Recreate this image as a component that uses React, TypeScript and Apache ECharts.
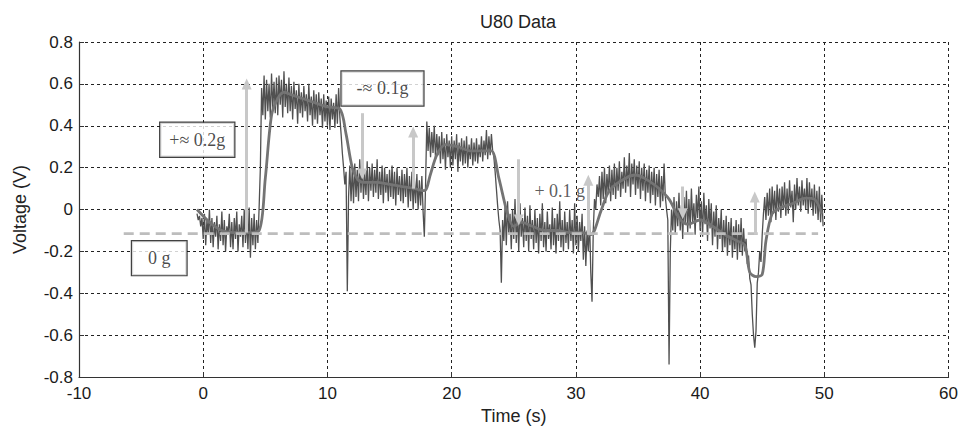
import { useEffect, useRef } from "react";
import * as echarts from "echarts";

// Raw accelerometer output, one sample every SAMPLE_STEP seconds from SAMPLE_START
const SAMPLE_START = -0.5;
const SAMPLE_STEP = 0.1;
const rawVoltage = [
  -0.02, -0.05, -0.03, -0.08, -0.04,
  -0.14, -0.02, -0.17, -0.05, -0.12, 0.0, -0.16, -0.04, -0.18, -0.06,
  -0.13, -0.03, -0.19, -0.07, -0.15, -0.01, -0.17, -0.05, -0.2, -0.08,
  -0.12, -0.02, -0.18, -0.06, -0.19, -0.04, -0.14, -0.01, -0.2, -0.07,
  -0.13, -0.03, -0.18, 0.0, -0.16, -0.05, -0.19, 0.01, -0.23, -0.04,
  -0.17, -0.02, -0.19, -0.05, -0.16, 0.01, 0.2, 0.58, 0.45, 0.64,
  0.43, 0.62, 0.47, 0.6, 0.44, 0.65, 0.48, 0.61, 0.46, 0.63,
  0.45, 0.64, 0.5, 0.62, 0.44, 0.66, 0.49, 0.6, 0.46, 0.63,
  0.47, 0.59, 0.43, 0.61, 0.48, 0.57, 0.41, 0.6, 0.46, 0.56,
  0.44, 0.59, 0.47, 0.55, 0.42, 0.6, 0.45, 0.54, 0.4, 0.57,
  0.43, 0.55, 0.41, 0.56, 0.45, 0.53, 0.39, 0.55, 0.42, 0.52,
  0.4, 0.54, 0.38, 0.53, 0.43, 0.51, 0.39, 0.55, 0.41, 0.58,
  0.44, 0.36, 0.27, 0.2, 0.12, 0.18, -0.39, 0.06, 0.21, 0.04,
  0.2, 0.03, 0.22, 0.06, 0.19, 0.04, 0.24, 0.08, 0.21, 0.05,
  0.18, 0.07, 0.23, 0.04, 0.2, 0.09, 0.22, 0.06, 0.19, 0.08,
  0.24, 0.05, 0.18, 0.07, 0.21, 0.03, 0.2, 0.08, 0.17, 0.04,
  0.19, 0.06, 0.21, 0.05, 0.18, 0.02, 0.2, 0.07, 0.16, 0.04,
  0.19, 0.03, 0.17, 0.06, 0.2, 0.01, 0.16, 0.04, 0.18, 0.0,
  0.15, 0.03, 0.17, 0.0, 0.14, 0.02, 0.16, -0.01, -0.13, 0.12,
  0.42, 0.28, 0.39, 0.25, 0.37, 0.27, 0.4, 0.24, 0.36, 0.26,
  0.35, 0.22, 0.37, 0.24, 0.34, 0.19, 0.36, 0.25, 0.33, 0.2,
  0.35, 0.21, 0.33, 0.24, 0.36, 0.18, 0.32, 0.23, 0.34, 0.21,
  0.33, 0.22, 0.35, 0.2, 0.31, 0.24, 0.34, 0.21, 0.32, 0.23,
  0.34, 0.22, 0.31, 0.25, 0.35, 0.23, 0.33, 0.26, 0.38, 0.24,
  0.35, 0.26, 0.36, 0.28, 0.25, 0.18, 0.1, 0.02, -0.05, -0.1,
  -0.35, -0.05, -0.15, 0.02, -0.17, 0.04, -0.12, -0.02, -0.19, 0.0,
  -0.14, 0.05, -0.16, -0.02, -0.2, 0.03, -0.13, -0.04, -0.18, 0.01,
  -0.15, -0.03, -0.2, 0.02, -0.14, -0.05, -0.19, 0.0, -0.16, -0.04,
  -0.21, -0.02, -0.15, 0.03, -0.18, -0.06, -0.2, -0.01, -0.14, -0.07,
  -0.19, 0.01, -0.17, -0.04, -0.21, -0.02, -0.15, 0.04, -0.18, -0.05,
  -0.2, -0.01, -0.16, -0.06, -0.19, 0.0, -0.15, -0.05, -0.21, 0.03,
  -0.17, -0.03, -0.2, -0.06, -0.15, -0.02, -0.24, -0.08, -0.27, -0.1,
  -0.2, -0.05, -0.3, -0.44, -0.1, 0.05, 0.0, 0.12, 0.06, 0.16,
  0.02, 0.18, 0.05, 0.2, 0.03, 0.17, 0.08, 0.21, 0.04, 0.19,
  0.07, 0.22, 0.05, 0.2, 0.09, 0.23, 0.06, 0.18, 0.1, 0.25,
  0.08, 0.21, 0.11, 0.27, 0.06, 0.22, 0.12, 0.24, 0.07, 0.21,
  0.1, 0.23, 0.05, 0.2, 0.09, 0.22, 0.04, 0.19, 0.08, 0.21,
  0.03, 0.18, 0.07, 0.2, 0.02, 0.17, 0.06, 0.19, 0.01, 0.16,
  0.04, 0.22, 0.06, 0.0, -0.05, -0.74, -0.2, 0.0, -0.1, 0.06,
  -0.12, 0.04, -0.08, 0.08, -0.1, 0.02, -0.14, 0.06, -0.07, 0.09,
  -0.11, 0.05, -0.09, 0.1, -0.06, 0.03, -0.12, 0.07, -0.04, 0.11,
  -0.1, 0.04, -0.13, 0.08, -0.07, 0.02, -0.15, 0.05, -0.09, 0.03,
  -0.17, -0.01, -0.13, 0.02, -0.19, -0.04, -0.14, 0.0, -0.2, -0.05,
  -0.18, -0.03, -0.22, -0.06, -0.17, -0.04, -0.23, -0.08, -0.19, -0.05,
  -0.24, -0.07, -0.2, -0.04, -0.22, -0.09, -0.2, -0.14, -0.26, -0.22,
  -0.33, -0.36, -0.5, -0.6, -0.66, -0.58, -0.35, -0.3, -0.2, -0.25,
  -0.12, -0.02, 0.06, -0.05, 0.08, -0.03, 0.1, -0.06, 0.11, -0.02,
  0.09, -0.05, 0.12, -0.01, 0.1, -0.04, 0.11, 0.0, 0.13, -0.03,
  0.1, -0.02, 0.14, 0.01, 0.09, -0.06, 0.12, 0.0, 0.15, 0.02,
  0.11, -0.01, 0.14, 0.02, 0.1, 0.0, 0.15, -0.02, 0.13, 0.01,
  0.1, -0.03, 0.12, -0.02, 0.09, -0.05, 0.11, -0.06, 0.07, -0.08,
];

// Low-pass filtered trace
const smoothTime = [
  -0.5, 0.5, 1.5, 2.5, 3.5, 4.5, 5.0, 5.5, 6.0, 6.5, 7.0, 8.0, 9.0, 10.0,
  11.0, 11.5, 12.0, 12.5, 13.0, 14.0, 15.0, 16.0, 17.0, 17.8, 18.3, 18.8,
  19.5, 20.5, 21.5, 22.5, 23.2, 23.8, 24.5, 25.0, 25.6, 26.5, 27.5, 28.5,
  29.5, 30.5, 31.2, 32.0, 32.5, 33.0, 34.0, 34.8, 35.5, 36.5, 37.5, 38.3,
  39.0, 40.0, 41.0, 42.0, 43.0, 43.6, 44.0, 44.5, 45.0, 45.3, 45.8, 46.5,
  47.5, 48.5, 49.2, 49.8,
];
const smoothVoltage = [
  0.0, -0.06, -0.1, -0.11, -0.11, -0.1, 0.15, 0.45, 0.53, 0.56, 0.55, 0.53,
  0.51, 0.49, 0.48, 0.36, 0.2, 0.14, 0.13, 0.13, 0.12, 0.11, 0.1, 0.09,
  0.17, 0.26, 0.31, 0.3, 0.28, 0.28, 0.28, 0.15, -0.02, -0.08, -0.06, -0.08,
  -0.1, -0.1, -0.11, -0.11, -0.12, -0.01, 0.07, 0.11, 0.15, 0.165, 0.15,
  0.11, 0.05, -0.04, -0.07, -0.05, -0.08, -0.12, -0.15, -0.17, -0.3, -0.32,
  -0.31, -0.15, -0.02, 0.01, 0.03, 0.055, 0.05, -0.02,
];

// Zero-g reference level
const baselineTime = [-6.4, 49.5];
const baselineVoltage = -0.115;

// Step arrows: time, tail voltage, head voltage
const arrowTime = [3.5, 12.8, 16.9, 25.4, 31.0, 38.6, 44.4];
const arrowFrom = [-0.11, 0.46, 0.1, 0.24, -0.12, 0.11, -0.12];
const arrowTo = [0.6, 0.17, 0.37, -0.05, 0.14, -0.02, 0.06];

// Notes
const boxedNotes = ["+\u2248 0.2g", "-\u2248 0.1g", "0 g"];
const boxedNoteTime = [-0.48, 14.43, -3.54];
const boxedNoteVoltage = [0.333, 0.578, -0.232];
const boxedNotePadX = [9, 15, 16];
const plainNotes = ["+ 0.1 g"];
const plainNoteTime = [28.7];
const plainNoteVoltage = [0.089];

const X_MIN = -10;
const X_MAX = 60;
const X_STEP = 10;
const Y_MIN = -0.8;
const Y_MAX = 0.8;
const Y_STEP = 0.2;

const SANS = "'Liberation Sans', Arial, sans-serif";
const SERIF = "'Liberation Serif', 'Times New Roman', serif";

export default function App() {
  const ref = useRef<HTMLDivElement>(null);

  useEffect(() => {
    if (!ref.current) return;
    const chart = echarts.init(ref.current, undefined, { renderer: "svg" });

    const rawData = rawVoltage.map((v, i) => [
      Math.round((SAMPLE_START + i * SAMPLE_STEP) * 10) / 10,
      v,
    ]);
    const smoothData = smoothTime.map((t, i) => [t, smoothVoltage[i]]);
    const baselineData = baselineTime.map((t) => [t, baselineVoltage]);
    const arrowLines = arrowTime.map((t, i) => [
      { coord: [t, arrowFrom[i]] },
      { coord: [t, arrowTo[i]] },
    ]);
    const boxedData = boxedNotes.map((text, i) => ({
      value: [boxedNoteTime[i], boxedNoteVoltage[i]],
      name: text,
      label: { padding: [6, boxedNotePadX[i], 6, boxedNotePadX[i]] },
    }));
    const plainData = plainNotes.map((text, i) => ({
      value: [plainNoteTime[i], plainNoteVoltage[i]],
      name: text,
    }));

    chart.setOption({
      animation: false,
      backgroundColor: "#ffffff",
      title: {
        text: "U80 Data",
        left: 475,
        top: 8,
        textStyle: {
          fontFamily: SANS,
          fontSize: 18,
          fontWeight: "normal",
          color: "#222",
        },
      },
      grid: { left: 79, right: 10, top: 42, bottom: 48, containLabel: false },
      xAxis: {
        type: "value",
        min: X_MIN,
        max: X_MAX,
        interval: X_STEP,
        name: "Time (s)",
        nameLocation: "middle",
        nameGap: 29,
        nameTextStyle: { fontFamily: SANS, fontSize: 18, color: "#222" },
        axisLine: { show: true, onZero: false, lineStyle: { color: "#333", width: 1.2 } },
        axisTick: { show: true, inside: true, length: 5, lineStyle: { color: "#333" } },
        axisLabel: { fontFamily: SANS, fontSize: 17, color: "#1a1a1a", margin: 8 },
        splitLine: {
          show: true,
          lineStyle: { color: "#222", width: 1, type: [3, 3] },
        },
      },
      yAxis: {
        type: "value",
        min: Y_MIN,
        max: Y_MAX,
        interval: Y_STEP,
        name: "Voltage (V)",
        nameLocation: "middle",
        nameGap: 50,
        nameTextStyle: { fontFamily: SANS, fontSize: 18, color: "#222" },
        axisLine: { show: true, onZero: false, lineStyle: { color: "#333", width: 1.2 } },
        axisTick: { show: true, inside: true, length: 5, lineStyle: { color: "#333" } },
        axisLabel: {
          fontFamily: SANS,
          fontSize: 17,
          color: "#1a1a1a",
          margin: 6,
          formatter: (v: number) => (Math.abs(v) < 1e-9 ? "0" : v.toFixed(1)),
        },
        splitLine: {
          show: true,
          lineStyle: { color: "#222", width: 1, type: [3, 3] },
        },
      },
      series: [
        {
          name: "raw",
          type: "line",
          data: rawData,
          showSymbol: false,
          symbol: "none",
          z: 2,
          lineStyle: { color: "#505050", width: 1.3 },
        },
        {
          name: "filtered",
          type: "line",
          data: smoothData,
          showSymbol: false,
          symbol: "none",
          smooth: 0.3,
          z: 3,
          lineStyle: { color: "#747474", width: 2.8 },
        },
        {
          name: "baseline",
          type: "line",
          data: baselineData,
          showSymbol: false,
          symbol: "none",
          z: 4,
          lineStyle: { color: "#bdbdbd", width: 2.6, type: [10, 6] },
          markLine: {
            silent: true,
            symbol: ["none", "triangle"],
            symbolSize: [10, 11],
            label: { show: false },
            lineStyle: { color: "#c8c8c8", width: 3, type: "solid" },
            data: arrowLines,
          },
        },
        {
          name: "boxed notes",
          type: "scatter",
          data: boxedData,
          symbolSize: 1,
          itemStyle: { color: "transparent" },
          z: 6,
          label: {
            show: true,
            position: "inside",
            formatter: (p: any) => p.name,
            fontFamily: SERIF,
            fontSize: 18,
            lineHeight: 22,
            color: "#1a1a1a",
            backgroundColor: "#ffffff",
            borderColor: "#111",
            borderWidth: 1.2,
          },
        },
        {
          name: "plain notes",
          type: "scatter",
          data: plainData,
          symbolSize: 1,
          itemStyle: { color: "transparent" },
          z: 6,
          label: {
            show: true,
            position: "inside",
            formatter: (p: any) => p.name,
            fontFamily: SERIF,
            fontSize: 18,
            color: "#333",
          },
        },
      ],
    });

    return () => chart.dispose();
  }, []);

  return (
    <div
      ref={ref}
      style={{ position: "absolute", left: 0, top: 0, width: 961, height: 430 }}
    />
  );
}
